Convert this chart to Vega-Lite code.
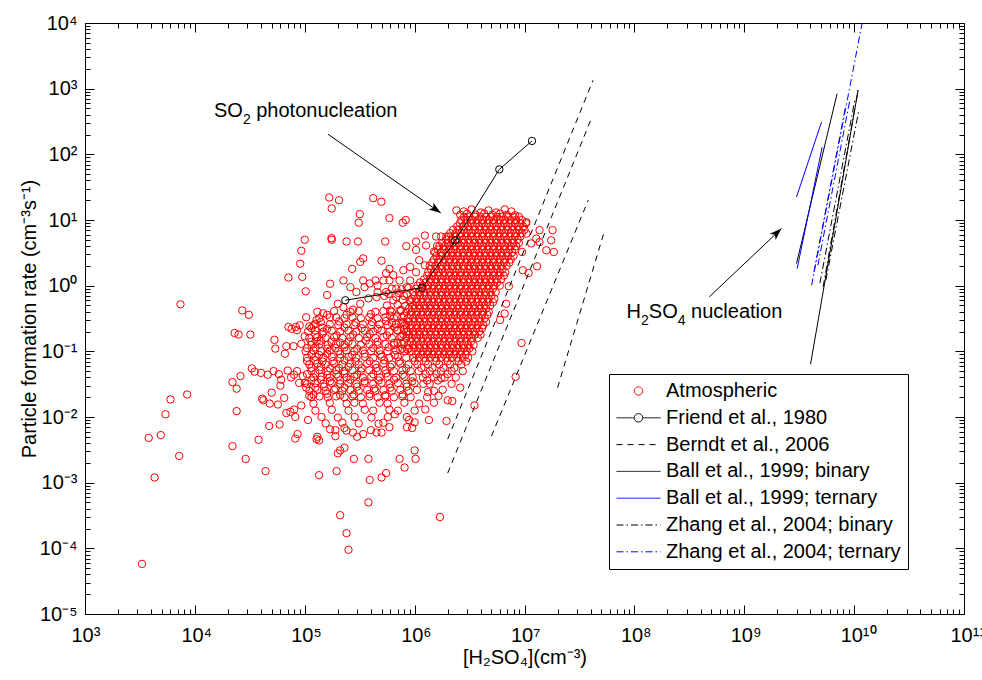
{
"$schema": "https://vega.github.io/schema/vega-lite/v6.json",
"width": 879, "height": 591,
"autosize": {"type": "none"},
"padding": {"left": 85, "top": 23, "right": 18, "bottom": 66},
"background": "white",
"config": {
  "font": "Liberation Sans",
  "view": {"stroke": "black", "strokeWidth": 1},
  "axis": {"domain": false, "grid": false, "tickColor": "black", "tickWidth": 1, "tickOpacity": 1, "labelColor": "black", "labelFontSize": 20, "labelFont": "Liberation Sans", "titleColor": "black", "titleFontSize": 20, "titleFontWeight": "normal", "titleFont": "Liberation Sans", "labelOverlap": false, "labelFlush": false, "labelBound": false}
},
"datasets": {
"atm": [
{"x":3.3e3,"y":5.8e-5},{"x":4.3e3,"y":1.2e-3},{"x":3.8e3,"y":4.8e-3},{"x":4.9e3,"y":5.3e-3},{"x":5.4e3,"y":1.1e-2},{"x":6.0e3,"y":1.85e-2},{"x":8.5e3,"y":2.2e-2},{"x":7.2e3,"y":2.55e-3},{"x":7.4e3,"y":0.52},{"x":2.2e4,"y":3.4e-2},{"x":2.4e4,"y":2.7e-2},{"x":2.6e4,"y":4.2e-2},{"x":2.4e4,"y":1.23e-2},{"x":2.2e4,"y":3.6e-3},{"x":2.9e4,"y":2.3e-3},{"x":2.3e4,"y":0.19},{"x":2.5e4,"y":0.18},{"x":3.2e4,"y":0.18},{"x":2.7e4,"y":0.42},{"x":3.1e4,"y":0.36},{"x":3.8e4,"y":4.5e-3},{"x":4.4e4,"y":1.5e-3},{"x":4.75e4,"y":7.3e-3},{"x":4.1e4,"y":1.9e-2},{"x":4.2e4,"y":1.8e-2},{"x":3.3e4,"y":5.5e-2},{"x":3.5e4,"y":4.9e-2},{"x":5.2e4,"y":5.0e-2},{"x":5.0e4,"y":2.35e-2},{"x":4.8e4,"y":1.6e-2},{"x":5.7e4,"y":1.55e-2},{"x":5.9e4,"y":7.7e-3},{"x":6.1e4,"y":3.7e-2},{"x":6.0e4,"y":3.0e-2},{"x":6.5e4,"y":1.95e-2},{"x":7.0e4,"y":5.1e-2},{"x":6.6e4,"y":9.2e-2},{"x":5.3e4,"y":0.15},{"x":5.4e4,"y":0.11},{"x":7.1e4,"y":1.33},{"x":9.5e4,"y":1.36},{"x":9.1e4,"y":2.16},{"x":9.3e4,"y":3.4},{"x":1.0e5,"y":5.0},{"x":1.02e5,"y":0.82},{"x":7.1e4,"y":0.235},{"x":8.3e4,"y":0.235},{"x":8.5e4,"y":0.21},{"x":1.03e5,"y":0.33},{"x":1.0e5,"y":0.17},{"x":6.8e4,"y":0.12},{"x":7.9e4,"y":0.12},{"x":9.3e4,"y":0.13},{"x":1.28e5,"y":0.14},{"x":6.8e4,"y":1.15e-2},{"x":7.4e4,"y":1.2e-2},{"x":8.2e4,"y":1.0e-2},{"x":8.2e4,"y":4.7e-3},{"x":8.6e4,"y":5.5e-3},{"x":1.07e5,"y":9e-3},{"x":1.28e5,"y":4.6e-3},{"x":1.35e5,"y":1.3e-3},{"x":8.0e4,"y":4.4e-2},{"x":8.9e4,"y":3.3e-2},{"x":1.0e5,"y":3.3e-2},{"x":1.03e5,"y":2.8e-2},{"x":1.1e5,"y":2.1e-2},{"x":8.0e4,"y":1.3e-2},{"x":9.3e4,"y":1.5e-2},{"x":1.95e5,"y":1.5e-3},{"x":2.1e5,"y":3.2e-4},{"x":2.4e5,"y":1.7e-4},{"x":2.5e5,"y":9.5e-5},{"x":3.8e5,"y":5e-4},{"x":3.9e5,"y":1.1e-3},{"x":2.8e5,"y":2.3e-3},{"x":3.8e5,"y":2.3e-3},{"x":5.0e5,"y":1.2e-3},{"x":5.5e5,"y":1.4e-3},{"x":7.3e5,"y":2.3e-3},{"x":8.1e5,"y":1.7e-3},{"x":1.0e6,"y":3.1e-3},{"x":1.02e6,"y":2.3e-3},{"x":1.7e6,"y":3.0e-4},{"x":1.35e6,"y":9e-3},{"x":1.95e6,"y":8.7e-3},{"x":2.2e6,"y":1.75e-2},{"x":2.6e6,"y":2.8e-2},{"x":2.1e5,"y":3.1e-3},{"x":2.0e5,"y":2.8e-3},{"x":2.3e5,"y":3.4e-3},{"x":1.35e5,"y":4.4e-3},{"x":1.7e5,"y":6.5e-3},{"x":2.3e5,"y":6.8e-3},{"x":2.75e5,"y":5.8e-3},{"x":3.4e5,"y":5.5e-3},{"x":4.5e5,"y":5.8e-3},{"x":5.0e5,"y":5.8e-3},{"x":5.9e5,"y":7e-3},{"x":8.5e5,"y":7e-3},{"x":8.9e5,"y":9e-3},{"x":3.5e6,"y":1.5e-2},{"x":8.3e6,"y":4.1e-2},{"x":9.4e6,"y":0.134},{"x":6e6,"y":0.3},{"x":6.6e6,"y":0.376},{"x":6.8e6,"y":0.53},{"x":7.2e6,"y":0.98},{"x":1.09e7,"y":1.56},{"x":9.65e6,"y":1.72},{"x":1.3e7,"y":1.97},{"x":9.5e6,"y":3.26},{"x":1.58e7,"y":3.46},{"x":1.85e7,"y":3.26},{"x":1.15e7,"y":4.4},{"x":1.37e7,"y":4.6},{"x":1.28e7,"y":5.2},{"x":1.75e7,"y":4.9},{"x":1.37e7,"y":7},{"x":1.8e7,"y":7},{"x":1.04e7,"y":9.3},{"x":1.04e7,"y":6.2},
{"x":1.67e5,"y":22},{"x":2.05e5,"y":20},{"x":1.76e5,"y":15},{"x":4.2e5,"y":21.5},{"x":4.98e5,"y":19},{"x":3.17e5,"y":12.3},{"x":3.1e5,"y":9.1},{"x":5.9e5,"y":10.7},{"x":7.8e5,"y":9.1},{"x":8.3e5,"y":10},{"x":1.75e5,"y":5.3},{"x":1.76e5,"y":5.0},{"x":2.4e5,"y":4.7},{"x":3.05e5,"y":4.7},{"x":5.4e5,"y":4.7},{"x":1.03e6,"y":4.7},{"x":1.24e6,"y":5.8},{"x":1.57e6,"y":5.6},{"x":1.74e6,"y":5.6},{"x":1.94e6,"y":5.6},{"x":8.4e5,"y":4.0},{"x":1.03e6,"y":3.5},{"x":3.4e5,"y":2.6},{"x":3.2e5,"y":2.3},{"x":5.0e5,"y":2.4},{"x":5.9e5,"y":1.8},{"x":2.7e5,"y":1.8},{"x":2.25e5,"y":1.2},{"x":3.4e5,"y":1.2},{"x":1.7e5,"y":1.07},{"x":1.6e5,"y":0.72},{"x":2.0e5,"y":0.53},{"x":1.27e6,"y":4.1},{"x":1.5e6,"y":3.3},{"x":1.6e6,"y":4.0},{"x":1.1e6,"y":2.44},{"x":1.24e6,"y":2.04},{"x":9.1e5,"y":1.93},{"x":1.03e6,"y":1.6},{"x":7.9e5,"y":1.72},{"x":6.4e5,"y":1.45},{"x":5.5e5,"y":1.55},{"x":5.2e5,"y":1.2},{"x":4.4e5,"y":1.2},{"x":4.6e5,"y":1.0},{"x":3.9e5,"y":1.08},{"x":5.9e5,"y":1.2},{"x":7.3e5,"y":1.2},{"x":9.1e5,"y":1.2},{"x":2.6e5,"y":0.95},{"x":2.95e5,"y":0.8},{"x":3.5e5,"y":0.95},{"x":4.6e5,"y":0.79},{"x":5.5e5,"y":0.8},{"x":6.8e5,"y":0.9},{"x":8.5e5,"y":0.95},{"x":1.47e5,"y":0.38},{"x":1.7e5,"y":0.33},{"x":1.28e5,"y":0.3},{"x":2.25e5,"y":0.47},{"x":2.75e5,"y":0.43},{"x":3.2e5,"y":0.53},{"x":3.8e5,"y":0.64},{"x":4.5e5,"y":0.67},{"x":5.3e5,"y":0.7},{"x":6.8e5,"y":0.67},{"x":8.0e5,"y":0.7},{"x":9.1e5,"y":0.6},
{"x":4.7e5,"y":7.9e-3},{"x":6.6e5,"y":1.1e-2},{"x":8.5e5,"y":1.0e-2},{"x":9.5e5,"y":6.8e-3},{"x":1.0e6,"y":8.3e-3},{"x":2.0e6,"y":1.8e-2},{"x":1.33e6,"y":2.4e-2},{"x":1.75e6,"y":3.9e-2},{"x":2.95e6,"y":7e-2},
{"x":4.0e4,"y":0.047},{"x":4.6e4,"y":0.044},{"x":5.8e4,"y":0.045},{"x":7.5e4,"y":0.04},{"x":8.5e4,"y":0.05},{"x":9.6e4,"y":0.042},{"x":7.6e4,"y":0.22},{"x":9.0e4,"y":0.25},{"x":1.1e5,"y":0.24},{"x":1.25e5,"y":0.26},{"x":1.45e5,"y":0.23},
{"x":2.4e6,"y":14},{"x":2.8e6,"y":13.5},{"x":3.3e6,"y":14.5},{"x":4.0e6,"y":13},{"x":4.7e6,"y":14},{"x":5.5e6,"y":13},{"x":6.6e6,"y":14.5},{"x":7.6e6,"y":13.5},
{"x":2.6e6,"y":12},{"x":3.0e6,"y":12.5},{"x":3.6e6,"y":12},{"x":4.3e6,"y":12.5},{"x":5.1e6,"y":12},{"x":6.0e6,"y":12.5},{"x":6.9e6,"y":12},{"x":8.2e6,"y":11.8},
{"x":2.82e6,"y":11.2},{"x":3.16e6,"y":11.2},{"x":3.55e6,"y":11.2},{"x":3.98e6,"y":11.2},{"x":4.47e6,"y":11.2},{"x":5.01e6,"y":11.2},{"x":5.62e6,"y":11.2},{"x":6.31e6,"y":11.2},{"x":7.08e6,"y":11.2},{"x":7.94e6,"y":11.2},{"x":8.91e6,"y":11.2},
{"x":2.66e6,"y":10},{"x":2.99e6,"y":10},{"x":3.35e6,"y":10},{"x":3.76e6,"y":10},{"x":4.22e6,"y":10},{"x":4.73e6,"y":10},{"x":5.31e6,"y":10},{"x":5.96e6,"y":10},{"x":6.68e6,"y":10},{"x":7.5e6,"y":10},{"x":8.41e6,"y":10},{"x":9.44e6,"y":10},
{"x":2.58e6,"y":8.9},{"x":2.9e6,"y":8.9},{"x":3.25e6,"y":8.9},{"x":3.65e6,"y":8.9},{"x":4.1e6,"y":8.9},{"x":4.6e6,"y":8.9},{"x":5.16e6,"y":8.9},{"x":5.79e6,"y":8.9},{"x":6.49e6,"y":8.9},{"x":7.28e6,"y":8.9},{"x":8.17e6,"y":8.9},{"x":9.17e6,"y":8.9},{"x":1.03e7,"y":8.9},
{"x":2.44e6,"y":8},{"x":2.74e6,"y":8},{"x":3.07e6,"y":8},{"x":3.44e6,"y":8},{"x":3.86e6,"y":8},{"x":4.34e6,"y":8},{"x":4.87e6,"y":8},{"x":5.46e6,"y":8},{"x":6.12e6,"y":8},{"x":6.87e6,"y":8},{"x":7.71e6,"y":8},{"x":8.65e6,"y":8},{"x":9.71e6,"y":8},
{"x":2.24e6,"y":7.1},{"x":2.51e6,"y":7.1},{"x":2.82e6,"y":7.1},{"x":3.16e6,"y":7.1},{"x":3.55e6,"y":7.1},{"x":3.98e6,"y":7.1},{"x":4.47e6,"y":7.1},{"x":5.01e6,"y":7.1},{"x":5.62e6,"y":7.1},{"x":6.31e6,"y":7.1},{"x":7.08e6,"y":7.1},{"x":7.94e6,"y":7.1},{"x":8.91e6,"y":7.1},{"x":1.0e7,"y":7.1},
{"x":2.11e6,"y":6.3},{"x":2.37e6,"y":6.3},{"x":2.66e6,"y":6.3},{"x":2.99e6,"y":6.3},{"x":3.35e6,"y":6.3},{"x":3.76e6,"y":6.3},{"x":4.22e6,"y":6.3},{"x":4.73e6,"y":6.3},{"x":5.31e6,"y":6.3},{"x":5.96e6,"y":6.3},{"x":6.68e6,"y":6.3},{"x":7.5e6,"y":6.3},{"x":8.41e6,"y":6.3},{"x":9.44e6,"y":6.3},
{"x":2.05e6,"y":5.6},{"x":2.3e6,"y":5.6},{"x":2.58e6,"y":5.6},{"x":2.9e6,"y":5.6},{"x":3.25e6,"y":5.6},{"x":3.65e6,"y":5.6},{"x":4.1e6,"y":5.6},{"x":4.6e6,"y":5.6},{"x":5.16e6,"y":5.6},{"x":5.79e6,"y":5.6},{"x":6.49e6,"y":5.6},{"x":7.28e6,"y":5.6},{"x":8.17e6,"y":5.6},{"x":9.17e6,"y":5.6},
{"x":1.94e6,"y":5},{"x":2.17e6,"y":5},{"x":2.44e6,"y":5},{"x":2.74e6,"y":5},{"x":3.07e6,"y":5},{"x":3.44e6,"y":5},{"x":3.86e6,"y":5},{"x":4.34e6,"y":5},{"x":4.87e6,"y":5},{"x":5.46e6,"y":5},{"x":6.12e6,"y":5},{"x":6.87e6,"y":5},{"x":7.71e6,"y":5},{"x":8.65e6,"y":5},
{"x":1.78e6,"y":4.5},{"x":2.0e6,"y":4.5},{"x":2.24e6,"y":4.5},{"x":2.51e6,"y":4.5},{"x":2.82e6,"y":4.5},{"x":3.16e6,"y":4.5},{"x":3.55e6,"y":4.5},{"x":3.98e6,"y":4.5},{"x":4.47e6,"y":4.5},{"x":5.01e6,"y":4.5},{"x":5.62e6,"y":4.5},{"x":6.31e6,"y":4.5},{"x":7.08e6,"y":4.5},{"x":7.94e6,"y":4.5},{"x":8.91e6,"y":4.5},
{"x":1.68e6,"y":4},{"x":1.88e6,"y":4},{"x":2.11e6,"y":4},{"x":2.37e6,"y":4},{"x":2.66e6,"y":4},{"x":2.99e6,"y":4},{"x":3.35e6,"y":4},{"x":3.76e6,"y":4},{"x":4.22e6,"y":4},{"x":4.73e6,"y":4},{"x":5.31e6,"y":4},{"x":5.96e6,"y":4},{"x":6.68e6,"y":4},{"x":7.5e6,"y":4},{"x":8.41e6,"y":4},
{"x":1.63e6,"y":3.55},{"x":1.83e6,"y":3.55},{"x":2.05e6,"y":3.55},{"x":2.3e6,"y":3.55},{"x":2.58e6,"y":3.55},{"x":2.9e6,"y":3.55},{"x":3.25e6,"y":3.55},{"x":3.65e6,"y":3.55},{"x":4.1e6,"y":3.55},{"x":4.6e6,"y":3.55},{"x":5.16e6,"y":3.55},{"x":5.79e6,"y":3.55},{"x":6.49e6,"y":3.55},{"x":7.28e6,"y":3.55},{"x":8.17e6,"y":3.55},
{"x":1.54e6,"y":3.2},{"x":1.73e6,"y":3.2},{"x":1.94e6,"y":3.2},{"x":2.17e6,"y":3.2},{"x":2.44e6,"y":3.2},{"x":2.74e6,"y":3.2},{"x":3.07e6,"y":3.2},{"x":3.44e6,"y":3.2},{"x":3.86e6,"y":3.2},{"x":4.34e6,"y":3.2},{"x":4.87e6,"y":3.2},{"x":5.46e6,"y":3.2},{"x":6.12e6,"y":3.2},{"x":6.87e6,"y":3.2},{"x":7.71e6,"y":3.2},
{"x":1.58e6,"y":2.85},{"x":1.78e6,"y":2.85},{"x":2.0e6,"y":2.85},{"x":2.24e6,"y":2.85},{"x":2.51e6,"y":2.85},{"x":2.82e6,"y":2.85},{"x":3.16e6,"y":2.85},{"x":3.55e6,"y":2.85},{"x":3.98e6,"y":2.85},{"x":4.47e6,"y":2.85},{"x":5.01e6,"y":2.85},{"x":5.62e6,"y":2.85},{"x":6.31e6,"y":2.85},{"x":7.08e6,"y":2.85},{"x":7.94e6,"y":2.85},
{"x":1.5e6,"y":2.5},{"x":1.68e6,"y":2.5},{"x":1.88e6,"y":2.5},{"x":2.11e6,"y":2.5},{"x":2.37e6,"y":2.5},{"x":2.66e6,"y":2.5},{"x":2.99e6,"y":2.5},{"x":3.35e6,"y":2.5},{"x":3.76e6,"y":2.5},{"x":4.22e6,"y":2.5},{"x":4.73e6,"y":2.5},{"x":5.31e6,"y":2.5},{"x":5.96e6,"y":2.5},{"x":6.68e6,"y":2.5},{"x":7.5e6,"y":2.5},
{"x":1.45e6,"y":2.25},{"x":1.63e6,"y":2.25},{"x":1.83e6,"y":2.25},{"x":2.05e6,"y":2.25},{"x":2.3e6,"y":2.25},{"x":2.58e6,"y":2.25},{"x":2.9e6,"y":2.25},{"x":3.25e6,"y":2.25},{"x":3.65e6,"y":2.25},{"x":4.1e6,"y":2.25},{"x":4.6e6,"y":2.25},{"x":5.16e6,"y":2.25},{"x":5.79e6,"y":2.25},{"x":6.49e6,"y":2.25},{"x":7.28e6,"y":2.25},
{"x":1.37e6,"y":2},{"x":1.54e6,"y":2},{"x":1.73e6,"y":2},{"x":1.94e6,"y":2},{"x":2.17e6,"y":2},{"x":2.44e6,"y":2},{"x":2.74e6,"y":2},{"x":3.07e6,"y":2},{"x":3.44e6,"y":2},{"x":3.86e6,"y":2},{"x":4.34e6,"y":2},{"x":4.87e6,"y":2},{"x":5.46e6,"y":2},{"x":6.12e6,"y":2},{"x":6.87e6,"y":2},
{"x":1.41e6,"y":1.8},{"x":1.58e6,"y":1.8},{"x":1.78e6,"y":1.8},{"x":2.0e6,"y":1.8},{"x":2.24e6,"y":1.8},{"x":2.51e6,"y":1.8},{"x":2.82e6,"y":1.8},{"x":3.16e6,"y":1.8},{"x":3.55e6,"y":1.8},{"x":3.98e6,"y":1.8},{"x":4.47e6,"y":1.8},{"x":5.01e6,"y":1.8},{"x":5.62e6,"y":1.8},{"x":6.31e6,"y":1.8},
{"x":1.33e6,"y":1.6},{"x":1.5e6,"y":1.6},{"x":1.68e6,"y":1.6},{"x":1.88e6,"y":1.6},{"x":2.11e6,"y":1.6},{"x":2.37e6,"y":1.6},{"x":2.66e6,"y":1.6},{"x":2.99e6,"y":1.6},{"x":3.35e6,"y":1.6},{"x":3.76e6,"y":1.6},{"x":4.22e6,"y":1.6},{"x":4.73e6,"y":1.6},{"x":5.31e6,"y":1.6},{"x":5.96e6,"y":1.6},{"x":6.68e6,"y":1.6},
{"x":1.3e6,"y":1.42},{"x":1.45e6,"y":1.42},{"x":1.63e6,"y":1.42},{"x":1.83e6,"y":1.42},{"x":2.05e6,"y":1.42},{"x":2.3e6,"y":1.42},{"x":2.58e6,"y":1.42},{"x":2.9e6,"y":1.42},{"x":3.25e6,"y":1.42},{"x":3.65e6,"y":1.42},{"x":4.1e6,"y":1.42},{"x":4.6e6,"y":1.42},{"x":5.16e6,"y":1.42},{"x":5.79e6,"y":1.42},{"x":6.49e6,"y":1.42},
{"x":1.22e6,"y":1.25},{"x":1.37e6,"y":1.25},{"x":1.54e6,"y":1.25},{"x":1.73e6,"y":1.25},{"x":1.94e6,"y":1.25},{"x":2.17e6,"y":1.25},{"x":2.44e6,"y":1.25},{"x":2.74e6,"y":1.25},{"x":3.07e6,"y":1.25},{"x":3.44e6,"y":1.25},{"x":3.86e6,"y":1.25},{"x":4.34e6,"y":1.25},{"x":4.87e6,"y":1.25},{"x":5.46e6,"y":1.25},{"x":6.12e6,"y":1.25},
{"x":1.12e6,"y":1.12},{"x":1.26e6,"y":1.12},{"x":1.41e6,"y":1.12},{"x":1.58e6,"y":1.12},{"x":1.78e6,"y":1.12},{"x":2.0e6,"y":1.12},{"x":2.24e6,"y":1.12},{"x":2.51e6,"y":1.12},{"x":2.82e6,"y":1.12},{"x":3.16e6,"y":1.12},{"x":3.55e6,"y":1.12},{"x":3.98e6,"y":1.12},{"x":4.47e6,"y":1.12},{"x":5.01e6,"y":1.12},{"x":5.62e6,"y":1.12},
{"x":1.06e6,"y":1},{"x":1.19e6,"y":1},{"x":1.33e6,"y":1},{"x":1.5e6,"y":1},{"x":1.68e6,"y":1},{"x":1.88e6,"y":1},{"x":2.11e6,"y":1},{"x":2.37e6,"y":1},{"x":2.66e6,"y":1},{"x":2.99e6,"y":1},{"x":3.35e6,"y":1},{"x":3.76e6,"y":1},{"x":4.22e6,"y":1},{"x":4.73e6,"y":1},{"x":5.31e6,"y":1},{"x":5.96e6,"y":1},
{"x":1.03e6,"y":0.9},{"x":1.15e6,"y":0.9},{"x":1.3e6,"y":0.9},{"x":1.45e6,"y":0.9},{"x":1.63e6,"y":0.9},{"x":1.83e6,"y":0.9},{"x":2.05e6,"y":0.9},{"x":2.3e6,"y":0.9},{"x":2.58e6,"y":0.9},{"x":2.9e6,"y":0.9},{"x":3.25e6,"y":0.9},{"x":3.65e6,"y":0.9},{"x":4.1e6,"y":0.9},{"x":4.6e6,"y":0.9},{"x":5.16e6,"y":0.9},
{"x":9.71e5,"y":0.8},{"x":1.09e6,"y":0.8},{"x":1.22e6,"y":0.8},{"x":1.37e6,"y":0.8},{"x":1.54e6,"y":0.8},{"x":1.73e6,"y":0.8},{"x":1.94e6,"y":0.8},{"x":2.17e6,"y":0.8},{"x":2.44e6,"y":0.8},{"x":2.74e6,"y":0.8},{"x":3.07e6,"y":0.8},{"x":3.44e6,"y":0.8},{"x":3.86e6,"y":0.8},{"x":4.34e6,"y":0.8},{"x":4.87e6,"y":0.8},{"x":5.46e6,"y":0.8},
{"x":1.0e6,"y":0.71},{"x":1.12e6,"y":0.71},{"x":1.26e6,"y":0.71},{"x":1.41e6,"y":0.71},{"x":1.58e6,"y":0.71},{"x":1.78e6,"y":0.71},{"x":2.0e6,"y":0.71},{"x":2.24e6,"y":0.71},{"x":2.51e6,"y":0.71},{"x":2.82e6,"y":0.71},{"x":3.16e6,"y":0.71},{"x":3.55e6,"y":0.71},{"x":3.98e6,"y":0.71},{"x":4.47e6,"y":0.71},{"x":5.01e6,"y":0.71},
{"x":9.44e5,"y":0.63},{"x":1.06e6,"y":0.63},{"x":1.19e6,"y":0.63},{"x":1.33e6,"y":0.63},{"x":1.5e6,"y":0.63},{"x":1.68e6,"y":0.63},{"x":1.88e6,"y":0.63},{"x":2.11e6,"y":0.63},{"x":2.37e6,"y":0.63},{"x":2.66e6,"y":0.63},{"x":2.99e6,"y":0.63},{"x":3.35e6,"y":0.63},{"x":3.76e6,"y":0.63},{"x":4.22e6,"y":0.63},{"x":4.73e6,"y":0.63},{"x":5.31e6,"y":0.63},
{"x":9.17e5,"y":0.56},{"x":1.03e6,"y":0.56},{"x":1.15e6,"y":0.56},{"x":1.3e6,"y":0.56},{"x":1.45e6,"y":0.56},{"x":1.63e6,"y":0.56},{"x":1.83e6,"y":0.56},{"x":2.05e6,"y":0.56},{"x":2.3e6,"y":0.56},{"x":2.58e6,"y":0.56},{"x":2.9e6,"y":0.56},{"x":3.25e6,"y":0.56},{"x":3.65e6,"y":0.56},{"x":4.1e6,"y":0.56},{"x":4.6e6,"y":0.56},{"x":5.16e6,"y":0.56},
{"x":9.71e5,"y":0.5},{"x":1.09e6,"y":0.5},{"x":1.22e6,"y":0.5},{"x":1.37e6,"y":0.5},{"x":1.54e6,"y":0.5},{"x":1.73e6,"y":0.5},{"x":1.94e6,"y":0.5},{"x":2.17e6,"y":0.5},{"x":2.44e6,"y":0.5},{"x":2.74e6,"y":0.5},{"x":3.07e6,"y":0.5},{"x":3.44e6,"y":0.5},{"x":3.86e6,"y":0.5},{"x":4.34e6,"y":0.5},{"x":4.87e6,"y":0.5},
{"x":8.91e5,"y":0.45},{"x":1.0e6,"y":0.45},{"x":1.12e6,"y":0.45},{"x":1.26e6,"y":0.45},{"x":1.41e6,"y":0.45},{"x":1.58e6,"y":0.45},{"x":1.78e6,"y":0.45},{"x":2.0e6,"y":0.45},{"x":2.24e6,"y":0.45},{"x":2.51e6,"y":0.45},{"x":2.82e6,"y":0.45},{"x":3.16e6,"y":0.45},{"x":3.55e6,"y":0.45},{"x":3.98e6,"y":0.45},{"x":4.47e6,"y":0.45},
{"x":8.41e5,"y":0.4},{"x":9.44e5,"y":0.4},{"x":1.06e6,"y":0.4},{"x":1.19e6,"y":0.4},{"x":1.33e6,"y":0.4},{"x":1.5e6,"y":0.4},{"x":1.68e6,"y":0.4},{"x":1.88e6,"y":0.4},{"x":2.11e6,"y":0.4},{"x":2.37e6,"y":0.4},{"x":2.66e6,"y":0.4},{"x":2.99e6,"y":0.4},{"x":3.35e6,"y":0.4},{"x":3.76e6,"y":0.4},{"x":4.22e6,"y":0.4},{"x":4.73e6,"y":0.4},
{"x":9.17e5,"y":0.36},{"x":1.03e6,"y":0.36},{"x":1.15e6,"y":0.36},{"x":1.3e6,"y":0.36},{"x":1.45e6,"y":0.36},{"x":1.63e6,"y":0.36},{"x":1.83e6,"y":0.36},{"x":2.05e6,"y":0.36},{"x":2.3e6,"y":0.36},{"x":2.58e6,"y":0.36},{"x":2.9e6,"y":0.36},{"x":3.25e6,"y":0.36},{"x":3.65e6,"y":0.36},{"x":4.1e6,"y":0.36},{"x":4.6e6,"y":0.36},
{"x":8.65e5,"y":0.32},{"x":9.71e5,"y":0.32},{"x":1.09e6,"y":0.32},{"x":1.22e6,"y":0.32},{"x":1.37e6,"y":0.32},{"x":1.54e6,"y":0.32},{"x":1.73e6,"y":0.32},{"x":1.94e6,"y":0.32},{"x":2.17e6,"y":0.32},{"x":2.44e6,"y":0.32},{"x":2.74e6,"y":0.32},{"x":3.07e6,"y":0.32},{"x":3.44e6,"y":0.32},{"x":3.86e6,"y":0.32},{"x":4.34e6,"y":0.32},
{"x":8.91e5,"y":0.28},{"x":1.0e6,"y":0.28},{"x":1.12e6,"y":0.28},{"x":1.26e6,"y":0.28},{"x":1.41e6,"y":0.28},{"x":1.58e6,"y":0.28},{"x":1.78e6,"y":0.28},{"x":2.0e6,"y":0.28},{"x":2.24e6,"y":0.28},{"x":2.51e6,"y":0.28},{"x":2.82e6,"y":0.28},{"x":3.16e6,"y":0.28},{"x":3.55e6,"y":0.28},{"x":3.98e6,"y":0.28},{"x":4.47e6,"y":0.28},
{"x":8.41e5,"y":0.25},{"x":9.44e5,"y":0.25},{"x":1.06e6,"y":0.25},{"x":1.19e6,"y":0.25},{"x":1.33e6,"y":0.25},{"x":1.5e6,"y":0.25},{"x":1.68e6,"y":0.25},{"x":1.88e6,"y":0.25},{"x":2.11e6,"y":0.25},{"x":2.37e6,"y":0.25},{"x":2.66e6,"y":0.25},{"x":2.99e6,"y":0.25},{"x":3.35e6,"y":0.25},{"x":3.76e6,"y":0.25},{"x":4.22e6,"y":0.25},
{"x":9.17e5,"y":0.225},{"x":1.03e6,"y":0.225},{"x":1.15e6,"y":0.225},{"x":1.3e6,"y":0.225},{"x":1.45e6,"y":0.225},{"x":1.63e6,"y":0.225},{"x":1.83e6,"y":0.225},{"x":2.05e6,"y":0.225},{"x":2.3e6,"y":0.225},{"x":2.58e6,"y":0.225},{"x":2.9e6,"y":0.225},{"x":3.25e6,"y":0.225},{"x":3.65e6,"y":0.225},{"x":4.1e6,"y":0.225},
{"x":8.65e5,"y":0.2},{"x":9.71e5,"y":0.2},{"x":1.09e6,"y":0.2},{"x":1.22e6,"y":0.2},{"x":1.37e6,"y":0.2},{"x":1.54e6,"y":0.2},{"x":1.73e6,"y":0.2},{"x":1.94e6,"y":0.2},{"x":2.17e6,"y":0.2},{"x":2.44e6,"y":0.2},{"x":2.74e6,"y":0.2},{"x":3.07e6,"y":0.2},{"x":3.44e6,"y":0.2},{"x":3.86e6,"y":0.2},
{"x":8.91e5,"y":0.18},{"x":1.0e6,"y":0.18},{"x":1.12e6,"y":0.18},{"x":1.26e6,"y":0.18},{"x":1.41e6,"y":0.18},{"x":1.58e6,"y":0.18},{"x":1.78e6,"y":0.18},{"x":2.0e6,"y":0.18},{"x":2.24e6,"y":0.18},{"x":2.51e6,"y":0.18},{"x":2.82e6,"y":0.18},{"x":3.16e6,"y":0.18},{"x":3.55e6,"y":0.18},{"x":3.98e6,"y":0.18},
{"x":8.41e5,"y":0.16},{"x":9.44e5,"y":0.16},{"x":1.06e6,"y":0.16},{"x":1.19e6,"y":0.16},{"x":1.33e6,"y":0.16},{"x":1.5e6,"y":0.16},{"x":1.68e6,"y":0.16},{"x":1.88e6,"y":0.16},{"x":2.11e6,"y":0.16},{"x":2.37e6,"y":0.16},{"x":2.66e6,"y":0.16},{"x":2.99e6,"y":0.16},{"x":3.35e6,"y":0.16},{"x":3.76e6,"y":0.16},
{"x":9.17e5,"y":0.14},{"x":1.03e6,"y":0.14},{"x":1.15e6,"y":0.14},{"x":1.3e6,"y":0.14},{"x":1.45e6,"y":0.14},{"x":1.63e6,"y":0.14},{"x":1.83e6,"y":0.14},{"x":2.05e6,"y":0.14},{"x":2.3e6,"y":0.14},{"x":2.58e6,"y":0.14},{"x":2.9e6,"y":0.14},{"x":3.25e6,"y":0.14},
{"x":8.65e5,"y":0.125},{"x":9.71e5,"y":0.125},{"x":1.09e6,"y":0.125},{"x":1.22e6,"y":0.125},{"x":1.37e6,"y":0.125},{"x":1.54e6,"y":0.125},{"x":1.73e6,"y":0.125},{"x":1.94e6,"y":0.125},{"x":2.17e6,"y":0.125},{"x":2.44e6,"y":0.125},{"x":2.74e6,"y":0.125},{"x":3.07e6,"y":0.125},{"x":3.44e6,"y":0.125},
{"x":8.91e5,"y":0.112},{"x":1.0e6,"y":0.112},{"x":1.12e6,"y":0.112},{"x":1.26e6,"y":0.112},{"x":1.41e6,"y":0.112},{"x":1.58e6,"y":0.112},{"x":1.78e6,"y":0.112},{"x":2.0e6,"y":0.112},{"x":2.24e6,"y":0.112},{"x":2.51e6,"y":0.112},{"x":2.82e6,"y":0.112},{"x":3.16e6,"y":0.112},
{"x":9.44e5,"y":0.1},{"x":1.06e6,"y":0.1},{"x":1.19e6,"y":0.1},{"x":1.33e6,"y":0.1},{"x":1.5e6,"y":0.1},{"x":1.68e6,"y":0.1},{"x":1.88e6,"y":0.1},{"x":2.11e6,"y":0.1},{"x":2.37e6,"y":0.1},{"x":2.66e6,"y":0.1},{"x":2.99e6,"y":0.1},{"x":3.35e6,"y":0.1},
{"x":1.03e6,"y":0.09},{"x":1.15e6,"y":0.09},{"x":1.3e6,"y":0.09},{"x":1.45e6,"y":0.09},{"x":1.63e6,"y":0.09},{"x":1.83e6,"y":0.09},{"x":2.05e6,"y":0.09},{"x":2.3e6,"y":0.09},{"x":2.58e6,"y":0.09},{"x":2.9e6,"y":0.09},
{"x":9.71e5,"y":0.08},{"x":1.09e6,"y":0.08},{"x":1.22e6,"y":0.08},{"x":1.37e6,"y":0.08},{"x":1.54e6,"y":0.08},{"x":1.73e6,"y":0.08},{"x":1.94e6,"y":0.08},{"x":2.17e6,"y":0.08},{"x":2.44e6,"y":0.08},{"x":2.74e6,"y":0.08},{"x":3.07e6,"y":0.08},
{"x":1.0e6,"y":0.071},{"x":1.26e6,"y":0.071},{"x":1.58e6,"y":0.071},{"x":2.0e6,"y":0.071},{"x":2.51e6,"y":0.071},
{"x":1.06e6,"y":0.063},{"x":1.33e6,"y":0.063},{"x":1.68e6,"y":0.063},{"x":2.11e6,"y":0.063},{"x":2.66e6,"y":0.063},
{"x":1.15e6,"y":0.056},{"x":1.45e6,"y":0.056},{"x":1.83e6,"y":0.056},{"x":2.3e6,"y":0.056},
{"x":1.09e6,"y":0.05},{"x":1.37e6,"y":0.05},{"x":1.73e6,"y":0.05},{"x":2.17e6,"y":0.05},{"x":2.74e6,"y":0.05},
{"x":1.26e6,"y":0.045},{"x":1.58e6,"y":0.045},{"x":2.0e6,"y":0.045},
{"x":1.19e6,"y":0.04},{"x":1.5e6,"y":0.04},{"x":1.88e6,"y":0.04},{"x":2.37e6,"y":0.04},
{"x":1.3e6,"y":0.036},{"x":1.63e6,"y":0.036},{"x":1.37e6,"y":0.032},{"x":2.17e6,"y":0.032},
{"x":1.5e6,"y":0.025},{"x":1.8e6,"y":0.026},{"x":1.3e6,"y":0.02},{"x":1.65e6,"y":0.021},{"x":1.1e6,"y":0.016},{"x":1.5e6,"y":0.0165},{"x":1.0e6,"y":0.0125},{"x":1.25e6,"y":0.013},
{"x":6.2e5,"y":0.9},{"x":7.6e5,"y":0.88},{"x":8.8e5,"y":0.92},{"x":5.8e5,"y":0.75},{"x":7.2e5,"y":0.77},{"x":8.5e5,"y":0.74},{"x":6.4e5,"y":0.6},{"x":7.8e5,"y":0.61},{"x":5.6e5,"y":0.5},{"x":7.0e5,"y":0.51},{"x":8.2e5,"y":0.49},{"x":6.0e5,"y":0.42},{"x":7.5e5,"y":0.43},{"x":6.9e5,"y":0.34},{"x":8.0e5,"y":0.35},{"x":6.2e5,"y":0.27},{"x":7.6e5,"y":0.27},{"x":6.9e5,"y":0.21},{"x":8.0e5,"y":0.215},{"x":7.6e5,"y":0.17},{"x":7.0e5,"y":0.135},{"x":8.0e5,"y":0.137},{"x":7.4e5,"y":0.105},{"x":8.6e5,"y":0.107},
{"x":1.3e5,"y":0.4},{"x":1.85e5,"y":0.41},{"x":2.6e5,"y":0.4},{"x":3.1e5,"y":0.41},{"x":4.4e5,"y":0.4},{"x":5.2e5,"y":0.41},{"x":6.2e5,"y":0.4},{"x":7.4e5,"y":0.41},
{"x":1.36e5,"y":0.32},{"x":1.93e5,"y":0.33},{"x":2.3e5,"y":0.32},{"x":2.72e5,"y":0.33},{"x":3.24e5,"y":0.32},{"x":3.87e5,"y":0.33},{"x":4.6e5,"y":0.32},{"x":5.43e5,"y":0.33},{"x":6.48e5,"y":0.32},{"x":7.73e5,"y":0.33},
{"x":1.2e5,"y":0.25},{"x":1.69e5,"y":0.258},{"x":2.02e5,"y":0.25},{"x":2.4e5,"y":0.258},{"x":2.83e5,"y":0.25},{"x":3.38e5,"y":0.258},{"x":4.03e5,"y":0.25},{"x":4.8e5,"y":0.258},{"x":5.67e5,"y":0.25},{"x":6.76e5,"y":0.258},{"x":8.07e5,"y":0.25},
{"x":1.07e5,"y":0.2},{"x":1.25e5,"y":0.206},{"x":1.48e5,"y":0.2},{"x":1.76e5,"y":0.206},{"x":2.1e5,"y":0.2},{"x":2.5e5,"y":0.206},{"x":2.95e5,"y":0.2},{"x":3.52e5,"y":0.206},{"x":4.2e5,"y":0.2},{"x":5.0e5,"y":0.206},{"x":5.9e5,"y":0.2},{"x":7.04e5,"y":0.206},{"x":8.4e5,"y":0.2},
{"x":1.1e5,"y":0.16},{"x":1.3e5,"y":0.165},{"x":1.55e5,"y":0.16},{"x":1.85e5,"y":0.165},{"x":2.2e5,"y":0.16},{"x":2.6e5,"y":0.165},{"x":3.1e5,"y":0.16},{"x":3.7e5,"y":0.165},{"x":4.4e5,"y":0.16},{"x":5.2e5,"y":0.165},{"x":6.2e5,"y":0.16},{"x":7.4e5,"y":0.165},
{"x":1.15e5,"y":0.125},{"x":1.36e5,"y":0.129},{"x":1.62e5,"y":0.125},{"x":1.93e5,"y":0.129},{"x":2.3e5,"y":0.125},{"x":2.72e5,"y":0.129},{"x":3.24e5,"y":0.125},{"x":3.87e5,"y":0.129},{"x":4.6e5,"y":0.125},{"x":5.43e5,"y":0.129},{"x":6.48e5,"y":0.125},{"x":7.73e5,"y":0.129},
{"x":1.02e5,"y":0.1},{"x":1.2e5,"y":0.103},{"x":1.42e5,"y":0.1},{"x":1.69e5,"y":0.103},{"x":2.02e5,"y":0.1},{"x":2.4e5,"y":0.103},{"x":2.83e5,"y":0.1},{"x":3.38e5,"y":0.103},{"x":4.03e5,"y":0.1},{"x":4.8e5,"y":0.103},{"x":5.67e5,"y":0.1},{"x":6.76e5,"y":0.103},{"x":8.07e5,"y":0.1},
{"x":1.05e5,"y":0.08},{"x":1.25e5,"y":0.0825},{"x":1.48e5,"y":0.08},{"x":1.76e5,"y":0.0825},{"x":2.1e5,"y":0.08},{"x":2.5e5,"y":0.0825},{"x":2.95e5,"y":0.08},{"x":3.52e5,"y":0.0825},{"x":4.2e5,"y":0.08},{"x":5.0e5,"y":0.0825},{"x":5.9e5,"y":0.08},{"x":7.04e5,"y":0.0825},{"x":8.4e5,"y":0.08},
{"x":1.1e5,"y":0.063},{"x":1.3e5,"y":0.065},{"x":1.55e5,"y":0.063},{"x":1.85e5,"y":0.065},{"x":2.2e5,"y":0.063},{"x":2.6e5,"y":0.065},{"x":3.1e5,"y":0.063},{"x":3.7e5,"y":0.065},{"x":4.4e5,"y":0.063},{"x":5.2e5,"y":0.065},{"x":6.2e5,"y":0.063},{"x":7.4e5,"y":0.065},{"x":8.8e5,"y":0.063},
{"x":1.15e5,"y":0.05},{"x":1.36e5,"y":0.0515},{"x":1.62e5,"y":0.05},{"x":1.93e5,"y":0.0515},{"x":2.3e5,"y":0.05},{"x":2.72e5,"y":0.0515},{"x":3.24e5,"y":0.05},{"x":3.87e5,"y":0.0515},{"x":4.6e5,"y":0.05},{"x":5.43e5,"y":0.0515},{"x":6.48e5,"y":0.05},{"x":7.73e5,"y":0.0515},{"x":9.2e5,"y":0.05},
{"x":1.2e5,"y":0.04},{"x":1.42e5,"y":0.0412},{"x":1.69e5,"y":0.04},{"x":2.02e5,"y":0.0412},{"x":2.4e5,"y":0.04},{"x":2.83e5,"y":0.0412},{"x":3.38e5,"y":0.04},{"x":4.03e5,"y":0.0412},{"x":4.8e5,"y":0.04},{"x":5.67e5,"y":0.0412},{"x":6.76e5,"y":0.04},{"x":8.07e5,"y":0.0412},{"x":9.6e5,"y":0.04},
{"x":1.05e5,"y":0.032},{"x":1.25e5,"y":0.033},{"x":1.48e5,"y":0.032},{"x":1.76e5,"y":0.033},{"x":2.1e5,"y":0.032},{"x":2.5e5,"y":0.033},{"x":2.95e5,"y":0.032},{"x":3.52e5,"y":0.033},{"x":4.2e5,"y":0.032},{"x":5.0e5,"y":0.033},{"x":5.9e5,"y":0.032},{"x":7.04e5,"y":0.033},{"x":8.4e5,"y":0.032},{"x":1.0e6,"y":0.033},{"x":1.2e6,"y":0.032},
{"x":1.1e5,"y":0.025},{"x":1.3e5,"y":0.0258},{"x":1.55e5,"y":0.025},{"x":1.85e5,"y":0.0258},{"x":2.2e5,"y":0.025},{"x":2.6e5,"y":0.0258},{"x":3.1e5,"y":0.025},{"x":3.7e5,"y":0.0258},{"x":4.4e5,"y":0.025},{"x":5.2e5,"y":0.0258},{"x":6.2e5,"y":0.025},{"x":7.4e5,"y":0.0258},{"x":8.8e5,"y":0.025},{"x":1.05e6,"y":0.0258},
{"x":1.15e5,"y":0.02},{"x":1.36e5,"y":0.0206},{"x":1.62e5,"y":0.02},{"x":1.93e5,"y":0.0206},{"x":2.3e5,"y":0.02},{"x":2.72e5,"y":0.0206},{"x":3.24e5,"y":0.02},{"x":3.87e5,"y":0.0206},{"x":4.6e5,"y":0.02},{"x":5.43e5,"y":0.0206},{"x":6.48e5,"y":0.02},{"x":7.73e5,"y":0.0206},{"x":9.2e5,"y":0.02},
{"x":1.2e5,"y":0.016},{"x":1.69e5,"y":0.0165},{"x":2.4e5,"y":0.016},{"x":2.83e5,"y":0.0165},{"x":3.38e5,"y":0.016},{"x":4.8e5,"y":0.0165},{"x":5.67e5,"y":0.016},{"x":8.07e5,"y":0.0165},
{"x":1.25e5,"y":0.0125},{"x":1.76e5,"y":0.0129},{"x":2.5e5,"y":0.0125},{"x":3.52e5,"y":0.0129},{"x":4.2e5,"y":0.0125},{"x":5.9e5,"y":0.0129},{"x":7.04e5,"y":0.0125},
{"x":1.42e5,"y":0.01},{"x":2.0e5,"y":0.0098},{"x":2.85e5,"y":0.01},{"x":4.05e5,"y":0.0098},{"x":5.7e5,"y":0.01},
{"x":1.55e5,"y":0.008},{"x":2.2e5,"y":0.0082},{"x":3.1e5,"y":0.008},{"x":5.2e5,"y":0.0082},
{"x":1.9e5,"y":0.0063},{"x":2.4e5,"y":0.0062},{"x":4.0e5,"y":0.0063},
{"x":1.3e5,"y":0.005},{"x":1.9e5,"y":0.0051},{"x":3.0e5,"y":0.005},
{"x":1.6e5,"y":0.36},{"x":2.4e5,"y":0.36},{"x":4.0e5,"y":0.37},{"x":6.0e5,"y":0.35},
{"x":1.4e5,"y":0.28},{"x":2.05e5,"y":0.285},{"x":2.9e5,"y":0.275},{"x":4.1e5,"y":0.28},{"x":5.5e5,"y":0.29},{"x":7.9e5,"y":0.28},
{"x":1.15e5,"y":0.225},{"x":1.6e5,"y":0.22},{"x":2.3e5,"y":0.23},{"x":3.3e5,"y":0.225},{"x":4.6e5,"y":0.22},{"x":6.6e5,"y":0.23},
{"x":1.25e5,"y":0.18},{"x":1.45e5,"y":0.185},{"x":1.95e5,"y":0.175},{"x":2.75e5,"y":0.18},{"x":3.9e5,"y":0.185},{"x":5.6e5,"y":0.175},{"x":7.9e5,"y":0.18},
{"x":1.15e5,"y":0.14},{"x":1.4e5,"y":0.145},{"x":1.75e5,"y":0.14},{"x":2.1e5,"y":0.135},{"x":2.5e5,"y":0.14},{"x":3.6e5,"y":0.145},{"x":4.6e5,"y":0.14},{"x":6.5e5,"y":0.135},
{"x":1.05e5,"y":0.112},{"x":1.25e5,"y":0.115},{"x":1.6e5,"y":0.11},{"x":1.9e5,"y":0.112},{"x":2.3e5,"y":0.115},{"x":3.0e5,"y":0.11},{"x":4.2e5,"y":0.112},{"x":5.8e5,"y":0.115},{"x":7.7e5,"y":0.11},
{"x":1.15e5,"y":0.09},{"x":1.35e5,"y":0.088},{"x":1.6e5,"y":0.092},{"x":2.1e5,"y":0.09},{"x":2.7e5,"y":0.088},{"x":3.5e5,"y":0.092},{"x":4.9e5,"y":0.09},{"x":6.6e5,"y":0.088},
{"x":1.05e5,"y":0.071},{"x":1.25e5,"y":0.073},{"x":1.45e5,"y":0.07},{"x":1.8e5,"y":0.071},{"x":2.3e5,"y":0.073},{"x":2.9e5,"y":0.07},{"x":3.9e5,"y":0.071},{"x":5.3e5,"y":0.073},{"x":7.2e5,"y":0.07},
{"x":1.15e5,"y":0.056},{"x":1.4e5,"y":0.058},{"x":1.7e5,"y":0.055},{"x":2.05e5,"y":0.056},{"x":2.5e5,"y":0.058},{"x":3.3e5,"y":0.055},{"x":4.5e5,"y":0.056},{"x":6.0e5,"y":0.058},{"x":8.4e5,"y":0.055},
{"x":1.05e5,"y":0.045},{"x":1.25e5,"y":0.046},{"x":1.6e5,"y":0.044},{"x":1.95e5,"y":0.045},{"x":2.3e5,"y":0.046},{"x":3.0e5,"y":0.044},{"x":4.2e5,"y":0.045},{"x":5.5e5,"y":0.046},{"x":7.8e5,"y":0.044},
{"x":1.15e5,"y":0.036},{"x":1.4e5,"y":0.037},{"x":1.7e5,"y":0.035},{"x":2.1e5,"y":0.036},{"x":2.6e5,"y":0.037},{"x":3.5e5,"y":0.035},{"x":4.7e5,"y":0.036},{"x":6.5e5,"y":0.037},{"x":9.5e5,"y":0.035},
{"x":1.25e5,"y":0.028},{"x":1.5e5,"y":0.029},{"x":1.9e5,"y":0.027},{"x":2.3e5,"y":0.028},{"x":3.0e5,"y":0.029},{"x":4.3e5,"y":0.027},{"x":6.0e5,"y":0.028},{"x":8.5e5,"y":0.029},
{"x":1.2e5,"y":0.022},{"x":1.6e5,"y":0.0225},{"x":2.1e5,"y":0.0215},{"x":2.8e5,"y":0.022},{"x":3.9e5,"y":0.0225},{"x":5.4e5,"y":0.0215},{"x":7.8e5,"y":0.022}
],
"lines": [
{"s":"Friend et al., 1980","id":"f","x":2.34e5,"y":0.6},
{"s":"Friend et al., 1980","id":"f","x":1.17e6,"y":0.93},
{"s":"Friend et al., 1980","id":"f","x":2.34e6,"y":4.9},
{"s":"Friend et al., 1980","id":"f","x":5.9e6,"y":59},
{"s":"Friend et al., 1980","id":"f","x":1.17e7,"y":160},
{"s":"Berndt et al., 2006","id":"b1","x":2.0e6,"y":4.6e-3},
{"s":"Berndt et al., 2006","id":"b1","x":4.2e7,"y":1340},
{"s":"Berndt et al., 2006","id":"b2","x":2.0e6,"y":1.4e-3},
{"s":"Berndt et al., 2006","id":"b2","x":4.0e7,"y":330},
{"s":"Berndt et al., 2006","id":"b3","x":5.0e6,"y":5.1e-3},
{"s":"Berndt et al., 2006","id":"b3","x":3.8e7,"y":20},
{"s":"Berndt et al., 2006","id":"b4","x":2.0e7,"y":2.8e-2},
{"s":"Berndt et al., 2006","id":"b4","x":5.3e7,"y":6.5},
{"s":"Ball et al., 1999; binary","id":"bb1","x":2.99e9,"y":2.17},
{"s":"Ball et al., 1999; binary","id":"bb1","x":7.0e9,"y":841},
{"s":"Ball et al., 1999; binary","id":"bb2","x":4.01e9,"y":0.0635},
{"s":"Ball et al., 1999; binary","id":"bb2","x":1.087e10,"y":944},
{"s":"Ball et al., 1999; ternary","id":"bt1","x":2.99e9,"y":22.4},
{"s":"Ball et al., 1999; ternary","id":"bt1","x":5.05e9,"y":311},
{"s":"Ball et al., 1999; ternary","id":"bt2","x":3.03e9,"y":1.82},
{"s":"Ball et al., 1999; ternary","id":"bt2","x":5.12e9,"y":129},
{"s":"Zhang et al., 2004; binary","id":"zb1","x":5.22e9,"y":0.955},
{"s":"Zhang et al., 2004; binary","id":"zb1","x":1.087e10,"y":968},
{"s":"Zhang et al., 2004; binary","id":"zb2","x":4.88e9,"y":1.09},
{"s":"Zhang et al., 2004; binary","id":"zb2","x":1.014e10,"y":665},
{"s":"Zhang et al., 2004; binary","id":"zb3","x":5.53e9,"y":1.21},
{"s":"Zhang et al., 2004; binary","id":"zb3","x":1.104e10,"y":469},
{"s":"Zhang et al., 2004; ternary","id":"zt1","x":4.1e9,"y":1.01},
{"s":"Zhang et al., 2004; ternary","id":"zt1","x":1.18e10,"y":9800},
{"s":"Zhang et al., 2004; ternary","id":"zt2","x":4.3e9,"y":1.6},
{"s":"Zhang et al., 2004; ternary","id":"zt2","x":8.4e9,"y":558},
{"s":"Zhang et al., 2004; ternary","id":"zt3","x":4.68e9,"y":2.04},
{"s":"Zhang et al., 2004; ternary","id":"zt3","x":9.14e9,"y":665}
],
"arrows": [
{"id":"a","x":1.63e5,"y":202},{"id":"a","x":1.73e6,"y":12.8},
{"id":"b","x":4.8e8,"y":0.673},{"id":"b","x":2.18e9,"y":7.4}
],
"tips": [
{"id":"a","x":1.73e6,"y":12.8},{"id":"b","x":2.18e9,"y":7.4}
],
"labels": [
{"k":"a1","t":"SO","x":1.49e4,"y":370},
{"k":"a2","t":"2","x":1.49e4,"y":370},
{"k":"a3","t":"photonucleation","x":1.49e4,"y":370},
{"k":"b1","t":"H","x":8.5e7,"y":0.318},
{"k":"b2","t":"2","x":8.5e7,"y":0.318},
{"k":"b3","t":"SO","x":8.5e7,"y":0.318},
{"k":"b4","t":"4","x":8.5e7,"y":0.318},
{"k":"b5","t":"nucleation","x":8.5e7,"y":0.318}
]
},
"resolve": {"axis": {"x": "independent", "y": "independent"}},
"encoding": {
  "x": {"field": "x", "type": "quantitative", "scale": {"type": "log", "domain": [1000, 1e11], "nice": false}, "axis": null},
  "y": {"field": "y", "type": "quantitative", "scale": {"type": "log", "domain": [1e-5, 10000], "nice": false}, "axis": null}
},
"layer": [
{
  "data": {"name": "atm"},
  "mark": {"type": "point", "shape": "circle", "filled": false, "size": 55, "strokeWidth": 1, "opacity": 1, "clip": true},
  "encoding": {
    "x": {"field": "x", "type": "quantitative", "scale": {"type": "log", "domain": [1000, 1e11], "nice": false},
      "axis": {"orient": "bottom", "values": [1e3,1e4,1e5,1e6,1e7,1e8,1e9,1e10,1e11],
        "labelExpr": "['10³','10⁴','10⁵','10⁶','10⁷','10⁸','10⁹','10¹⁰','10¹¹'][round(log(datum.value)/LN10)-3]",
        "tickSize": -9, "labelAlign": "left", "labelOffset": -14, "labelPadding": 20, "labelBaseline": "top",
        "title": "[H₂SO₄](cm⁻³)", "titlePadding": 2}},
    "y": {"field": "y", "type": "quantitative", "scale": {"type": "log", "domain": [1e-5, 10000], "nice": false},
      "axis": {"orient": "left", "values": [1e-5,1e-4,1e-3,1e-2,0.1,1,10,100,1000,10000],
        "labelExpr": "['10⁻⁵','10⁻⁴','10⁻³','10⁻²','10⁻¹','10⁰','10¹','10²','10³','10⁴'][round(log(datum.value)/LN10)+5]",
        "tickSize": -9, "labelPadding": 17, "labelBaseline": "middle",
        "title": "Particle formation rate (cm⁻³s⁻¹)", "titlePadding": 0}},
    "color": {"datum": "Atmospheric", "type": "nominal",
      "scale": {"domain": ["Atmospheric","Friend et al., 1980","Berndt et al., 2006","Ball et al., 1999; binary","Ball et al., 1999; ternary","Zhang et al., 2004; binary","Zhang et al., 2004; ternary"], "range": ["#ff0000","#000000","#000000","#000000","#0000ff","#000000","#0000ff"]},
      "legend": {"title": null, "orient": "none", "legendX": 524, "legendY": 351, "direction": "vertical",
        "symbolType": {"expr": "datum.value==='Atmospheric'?'M0.19,0A0.19,0.19,0,1,1,-0.19,0A0.19,0.19,0,1,1,0.19,0Z':datum.value==='Friend et al., 1980'?'M-1,0L-0.19,0M0.19,0L1,0M0.19,0A0.19,0.19,0,1,1,-0.19,0A0.19,0.19,0,1,1,0.19,0':'stroke'"},
        "symbolDash": {"expr": "datum.value==='Berndt et al., 2006'?[6,5]:indexof(datum.value,'Zhang')===0?[7,3,1.5,3]:[1,0]"},
        "symbolFillColor": "transparent", "symbolSize": 1936, "symbolStrokeWidth": 1, "clipHeight": 20, "rowPadding": 6.8, "labelFontSize": 20, "labelFont": "Liberation Sans", "labelColor": "black", "labelOffset": 5, "labelLimit": 400, "padding": 7, "strokeColor": "black", "fillColor": "white"}}
  }
},
{
  "data": {"name": "lines"},
  "transform": [{"filter": "datum.s==='Friend et al., 1980' || indexof(datum.s,'Ball')===0"}],
  "mark": {"type": "line", "strokeWidth": 1, "clip": true},
  "encoding": {
    "detail": {"field": "id"},
    "color": {"field": "s", "type": "nominal",
      "scale": {"domain": ["Atmospheric","Friend et al., 1980","Berndt et al., 2006","Ball et al., 1999; binary","Ball et al., 1999; ternary","Zhang et al., 2004; binary","Zhang et al., 2004; ternary"], "range": ["#ff0000","#000000","#000000","#000000","#0000ff","#000000","#0000ff"]},
      "legend": {"title": null, "orient": "none", "legendX": 524, "legendY": 351, "direction": "vertical",
        "symbolType": {"expr": "datum.value==='Atmospheric'?'M0.19,0A0.19,0.19,0,1,1,-0.19,0A0.19,0.19,0,1,1,0.19,0Z':datum.value==='Friend et al., 1980'?'M-1,0L-0.19,0M0.19,0L1,0M0.19,0A0.19,0.19,0,1,1,-0.19,0A0.19,0.19,0,1,1,0.19,0':'stroke'"},
        "symbolDash": {"expr": "datum.value==='Berndt et al., 2006'?[6,5]:indexof(datum.value,'Zhang')===0?[7,3,1.5,3]:[1,0]"},
        "symbolFillColor": "transparent", "symbolSize": 1936, "symbolStrokeWidth": 1, "clipHeight": 20, "rowPadding": 6.8, "labelFontSize": 20, "labelFont": "Liberation Sans", "labelColor": "black", "labelOffset": 5, "labelLimit": 400, "padding": 7, "strokeColor": "black", "fillColor": "white"}}
  }
},
{
  "data": {"name": "lines"},
  "transform": [{"filter": "datum.s==='Berndt et al., 2006'"}],
  "mark": {"type": "line", "strokeWidth": 1, "strokeDash": [6, 5], "clip": true},
  "encoding": {
    "detail": {"field": "id"},
    "color": {"field": "s", "type": "nominal",
      "scale": {"domain": ["Atmospheric","Friend et al., 1980","Berndt et al., 2006","Ball et al., 1999; binary","Ball et al., 1999; ternary","Zhang et al., 2004; binary","Zhang et al., 2004; ternary"], "range": ["#ff0000","#000000","#000000","#000000","#0000ff","#000000","#0000ff"]},
      "legend": {"title": null, "orient": "none", "legendX": 524, "legendY": 351, "direction": "vertical",
        "symbolType": {"expr": "datum.value==='Atmospheric'?'M0.19,0A0.19,0.19,0,1,1,-0.19,0A0.19,0.19,0,1,1,0.19,0Z':datum.value==='Friend et al., 1980'?'M-1,0L-0.19,0M0.19,0L1,0M0.19,0A0.19,0.19,0,1,1,-0.19,0A0.19,0.19,0,1,1,0.19,0':'stroke'"},
        "symbolDash": {"expr": "datum.value==='Berndt et al., 2006'?[6,5]:indexof(datum.value,'Zhang')===0?[7,3,1.5,3]:[1,0]"},
        "symbolFillColor": "transparent", "symbolSize": 1936, "symbolStrokeWidth": 1, "clipHeight": 20, "rowPadding": 6.8, "labelFontSize": 20, "labelFont": "Liberation Sans", "labelColor": "black", "labelOffset": 5, "labelLimit": 400, "padding": 7, "strokeColor": "black", "fillColor": "white"}}
  }
},
{
  "data": {"name": "lines"},
  "transform": [{"filter": "indexof(datum.s,'Zhang')===0"}],
  "mark": {"type": "line", "strokeWidth": 1, "strokeDash": [7, 3, 1.5, 3], "clip": true},
  "encoding": {
    "detail": {"field": "id"},
    "color": {"field": "s", "type": "nominal",
      "scale": {"domain": ["Atmospheric","Friend et al., 1980","Berndt et al., 2006","Ball et al., 1999; binary","Ball et al., 1999; ternary","Zhang et al., 2004; binary","Zhang et al., 2004; ternary"], "range": ["#ff0000","#000000","#000000","#000000","#0000ff","#000000","#0000ff"]},
      "legend": {"title": null, "orient": "none", "legendX": 524, "legendY": 351, "direction": "vertical",
        "symbolType": {"expr": "datum.value==='Atmospheric'?'M0.19,0A0.19,0.19,0,1,1,-0.19,0A0.19,0.19,0,1,1,0.19,0Z':datum.value==='Friend et al., 1980'?'M-1,0L-0.19,0M0.19,0L1,0M0.19,0A0.19,0.19,0,1,1,-0.19,0A0.19,0.19,0,1,1,0.19,0':'stroke'"},
        "symbolDash": {"expr": "datum.value==='Berndt et al., 2006'?[6,5]:indexof(datum.value,'Zhang')===0?[7,3,1.5,3]:[1,0]"},
        "symbolFillColor": "transparent", "symbolSize": 1936, "symbolStrokeWidth": 1, "clipHeight": 20, "rowPadding": 6.8, "labelFontSize": 20, "labelFont": "Liberation Sans", "labelColor": "black", "labelOffset": 5, "labelLimit": 400, "padding": 7, "strokeColor": "black", "fillColor": "white"}}
  }
},
{
  "data": {"name": "lines"},
  "transform": [{"filter": "datum.s==='Friend et al., 1980'"}],
  "mark": {"type": "point", "shape": "circle", "filled": false, "size": 55, "strokeWidth": 1, "color": "black", "opacity": 1},
  "encoding": {
    "x": {"field": "x", "type": "quantitative", "scale": {"type": "log", "domain": [1000, 1e11], "nice": false},
      "axis": {"orient": "top", "values": [1e3,1e4,1e5,1e6,1e7,1e8,1e9,1e10,1e11], "labels": false, "title": null, "tickSize": -9}},
    "y": {"field": "y", "type": "quantitative", "scale": {"type": "log", "domain": [1e-5, 10000], "nice": false},
      "axis": {"orient": "right", "values": [1e-5,1e-4,1e-3,1e-2,0.1,1,10,100,1000,10000], "labels": false, "title": null, "tickSize": -9}}
  }
},
{
  "data": {"name": "arrows"},
  "mark": {"type": "line", "color": "black", "strokeWidth": 1},
  "encoding": {
    "detail": {"field": "id"},
    "x": {"field": "x", "type": "quantitative", "scale": {"type": "log", "domain": [1000, 1e11], "nice": false},
      "axis": {"orient": "bottom", "values": [2e3,3e3,4e3,5e3,6e3,7e3,8e3,9e3,2e4,3e4,4e4,5e4,6e4,7e4,8e4,9e4,2e5,3e5,4e5,5e5,6e5,7e5,8e5,9e5,2e6,3e6,4e6,5e6,6e6,7e6,8e6,9e6,2e7,3e7,4e7,5e7,6e7,7e7,8e7,9e7,2e8,3e8,4e8,5e8,6e8,7e8,8e8,9e8,2e9,3e9,4e9,5e9,6e9,7e9,8e9,9e9,2e10,3e10,4e10,5e10,6e10,7e10,8e10,9e10], "labels": false, "title": null, "tickSize": -5}},
    "y": {"field": "y", "type": "quantitative", "scale": {"type": "log", "domain": [1e-5, 10000], "nice": false},
      "axis": {"orient": "left", "values": [2e-5,3e-5,4e-5,5e-5,6e-5,7e-5,8e-5,9e-5,2e-4,3e-4,4e-4,5e-4,6e-4,7e-4,8e-4,9e-4,2e-3,3e-3,4e-3,5e-3,6e-3,7e-3,8e-3,9e-3,2e-2,3e-2,4e-2,5e-2,6e-2,7e-2,8e-2,9e-2,0.2,0.3,0.4,0.5,0.6,0.7,0.8,0.9,2,3,4,5,6,7,8,9,20,30,40,50,60,70,80,90,200,300,400,500,600,700,800,900,2000,3000,4000,5000,6000,7000,8000,9000], "labels": false, "title": null, "tickSize": -5}}
  }
},
{
  "data": {"name": "tips"},
  "transform": [{"filter": "datum.id==='a'"}],
  "mark": {"type": "point", "shape": "M0,0L-4,-1.4L-3,0L-4,1.4Z", "size": 36, "angle": 34.9, "filled": true, "color": "black", "opacity": 1, "strokeWidth": 0},
  "encoding": {
    "x": {"field": "x", "type": "quantitative", "scale": {"type": "log", "domain": [1000, 1e11], "nice": false},
      "axis": {"orient": "top", "values": [2e3,3e3,4e3,5e3,6e3,7e3,8e3,9e3,2e4,3e4,4e4,5e4,6e4,7e4,8e4,9e4,2e5,3e5,4e5,5e5,6e5,7e5,8e5,9e5,2e6,3e6,4e6,5e6,6e6,7e6,8e6,9e6,2e7,3e7,4e7,5e7,6e7,7e7,8e7,9e7,2e8,3e8,4e8,5e8,6e8,7e8,8e8,9e8,2e9,3e9,4e9,5e9,6e9,7e9,8e9,9e9,2e10,3e10,4e10,5e10,6e10,7e10,8e10,9e10], "labels": false, "title": null, "tickSize": -5}},
    "y": {"field": "y", "type": "quantitative", "scale": {"type": "log", "domain": [1e-5, 10000], "nice": false},
      "axis": {"orient": "right", "values": [2e-5,3e-5,4e-5,5e-5,6e-5,7e-5,8e-5,9e-5,2e-4,3e-4,4e-4,5e-4,6e-4,7e-4,8e-4,9e-4,2e-3,3e-3,4e-3,5e-3,6e-3,7e-3,8e-3,9e-3,2e-2,3e-2,4e-2,5e-2,6e-2,7e-2,8e-2,9e-2,0.2,0.3,0.4,0.5,0.6,0.7,0.8,0.9,2,3,4,5,6,7,8,9,20,30,40,50,60,70,80,90,200,300,400,500,600,700,800,900,2000,3000,4000,5000,6000,7000,8000,9000], "labels": false, "title": null, "tickSize": -5}}
  }
},
{
  "data": {"name": "tips"},
  "transform": [{"filter": "datum.id==='b'"}],
  "mark": {"type": "point", "shape": "M0,0L-4,-1.4L-3,0L-4,1.4Z", "size": 36, "angle": -43.4, "filled": true, "color": "black", "opacity": 1, "strokeWidth": 0},
  "encoding": {}
},
{"data": {"name": "labels"}, "transform": [{"filter": "datum.k==='a1'"}], "mark": {"type": "text", "align": "left", "baseline": "alphabetic", "fontSize": 20, "color": "black", "dx": 0}, "encoding": {"text": {"field": "t"}}},
{"data": {"name": "labels"}, "transform": [{"filter": "datum.k==='a2'"}], "mark": {"type": "text", "align": "left", "baseline": "alphabetic", "fontSize": 14, "color": "black", "dx": 29, "dy": 7}, "encoding": {"text": {"field": "t"}}},
{"data": {"name": "labels"}, "transform": [{"filter": "datum.k==='a3'"}], "mark": {"type": "text", "align": "left", "baseline": "alphabetic", "fontSize": 20, "color": "black", "dx": 42.3}, "encoding": {"text": {"field": "t"}}},
{"data": {"name": "labels"}, "transform": [{"filter": "datum.k==='b1'"}], "mark": {"type": "text", "align": "left", "baseline": "alphabetic", "fontSize": 20, "color": "black", "dx": 0}, "encoding": {"text": {"field": "t"}}},
{"data": {"name": "labels"}, "transform": [{"filter": "datum.k==='b2'"}], "mark": {"type": "text", "align": "left", "baseline": "alphabetic", "fontSize": 14, "color": "black", "dx": 14.4, "dy": 7}, "encoding": {"text": {"field": "t"}}},
{"data": {"name": "labels"}, "transform": [{"filter": "datum.k==='b3'"}], "mark": {"type": "text", "align": "left", "baseline": "alphabetic", "fontSize": 20, "color": "black", "dx": 22.2}, "encoding": {"text": {"field": "t"}}},
{"data": {"name": "labels"}, "transform": [{"filter": "datum.k==='b4'"}], "mark": {"type": "text", "align": "left", "baseline": "alphabetic", "fontSize": 14, "color": "black", "dx": 51.1, "dy": 7}, "encoding": {"text": {"field": "t"}}},
{"data": {"name": "labels"}, "transform": [{"filter": "datum.k==='b5'"}], "mark": {"type": "text", "align": "left", "baseline": "alphabetic", "fontSize": 20, "color": "black", "dx": 64.5}, "encoding": {"text": {"field": "t"}}}
]
}
